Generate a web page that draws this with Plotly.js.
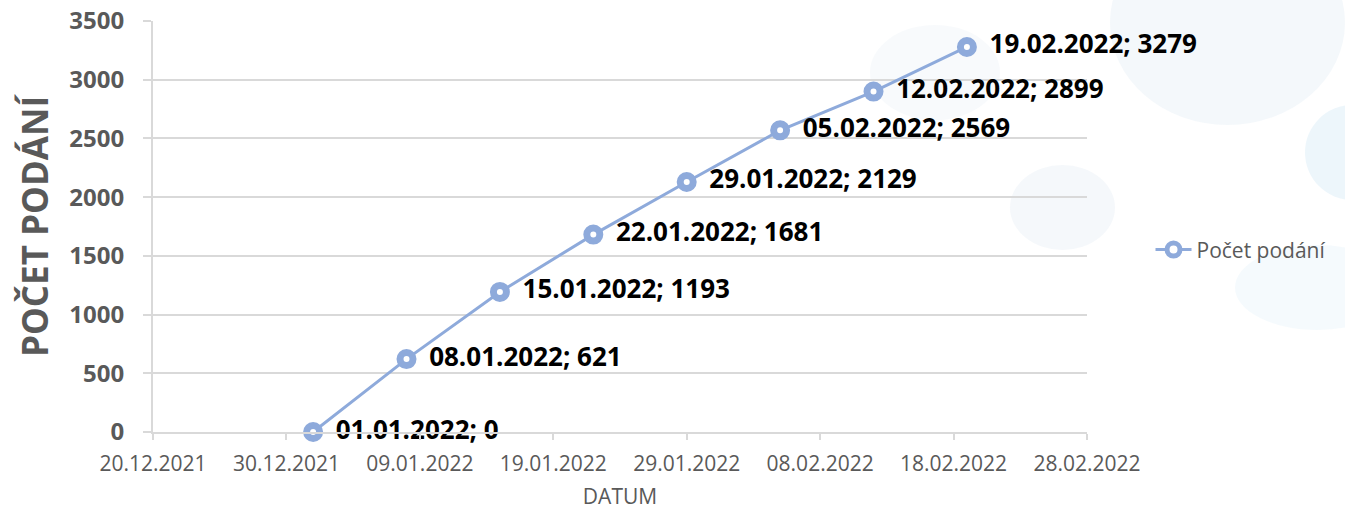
<!DOCTYPE html>
<html><head><meta charset="utf-8">
<script src="https://cdn.plot.ly/plotly-3.0.1.min.js"></script>
<style>html,body{margin:0;padding:0;background:#fff}#chart{width:1345px;height:510px}</style>
</head><body><div id="chart"></div>
<script>
const dates = ['2022-01-01','2022-01-08','2022-01-15','2022-01-22','2022-01-29','2022-02-05','2022-02-12','2022-02-19'];
const dateLabels = ['01.01.2022','08.01.2022','15.01.2022','22.01.2022','29.01.2022','05.02.2022','12.02.2022','19.02.2022'];
const counts = [0, 621, 1193, 1681, 2129, 2569, 2899, 3279];
const seriesName = 'Počet podání';

const labels = dateLabels.map((d,i)=>'  ' + d + '; ' + counts[i]);
const blue = '#8eaadb';

const trace = {
  x: dates, y: counts, name: seriesName,
  mode: 'lines+markers+text',
  text: labels, textposition: 'middle right',
  textfont: {family: 'Open Sans, sans-serif', size: 26, color: '#000', weight: 'bold'},
  line: {color: blue, width: 3},
  marker: {symbol: 'circle', size: 13, color: '#ffffff', line: {color: blue, width: 7}},
  cliponaxis: false
};

const blobs = [
  {x0:1110,x1:1345,y0:-80,y1:125,c:'rgba(236,244,249,0.6)'},
  {x0:1010,x1:1115,y0:165,y1:250,c:'rgba(238,244,249,0.6)'},
  {x0:1305,x1:1400,y0:105,y1:200,c:'rgba(225,240,248,0.6)'},
  {x0:1235,x1:1400,y0:245,y1:330,c:'rgba(238,246,251,0.6)'},
  {x0:870,x1:1000,y0:25,y1:120,c:'rgba(242,246,250,0.55)'}
].map(b=>({type:'circle', xref:'paper', yref:'paper', layer:'below',
  x0:(b.x0-153)/934, x1:(b.x1-153)/934, y0:(432-b.y1)/411, y1:(432-b.y0)/411,
  fillcolor:b.c, line:{width:0}}));

const layout = {
  width: 1345, height: 510,
  margin: {l:153, r:258, t:21, b:78},
  paper_bgcolor: '#ffffff', plot_bgcolor: 'rgba(0,0,0,0)',
  font: {family: 'Open Sans, sans-serif', color: '#595959'},
  shapes: blobs,
  xaxis: {
    type: 'date', range: ['2021-12-20','2022-02-28'],
    tick0: '2021-12-20', dtick: 864000000, tickformat: '%d.%m.%Y',
    showgrid: false, zeroline: false,
    showline: true, linecolor: '#d9d9d9', linewidth: 2,
    ticks: 'outside', ticklen: 6, tickcolor: '#d9d9d9', tickwidth: 2,
    ticklabelstandoff: 6,
    tickfont: {size: 21, color: '#595959'},
    title: {text: 'DATUM', font: {size: 21, color: '#595959'}, standoff: 16}
  },
  yaxis: {
    range: [0, 3500], dtick: 500, tick0: 0,
    showgrid: true, gridcolor: '#d9d9d9', gridwidth: 2,
    zeroline: false, showline: true, linecolor: '#d9d9d9', linewidth: 2,
    ticks: 'outside', ticklen: 8, tickcolor: '#d9d9d9', tickwidth: 2,
    ticklabelstandoff: 14,
    tickfont: {size: 24, color: '#595959', weight: 'bold'},
    title: {text: 'POČET PODÁNÍ', font: {size: 35, color: '#595959', weight: 'bold'}, standoff: 10}
  },
  showlegend: true,
  legend: {x: 1.068, y: 0.443, xanchor: 'left', yanchor: 'middle', itemwidth: 36,
    bgcolor: 'rgba(0,0,0,0)', font: {size: 21, color: '#595959'}},
};

Plotly.newPlot('chart', [trace], layout, {displayModeBar: false, staticPlot: true});
</script></body></html>
